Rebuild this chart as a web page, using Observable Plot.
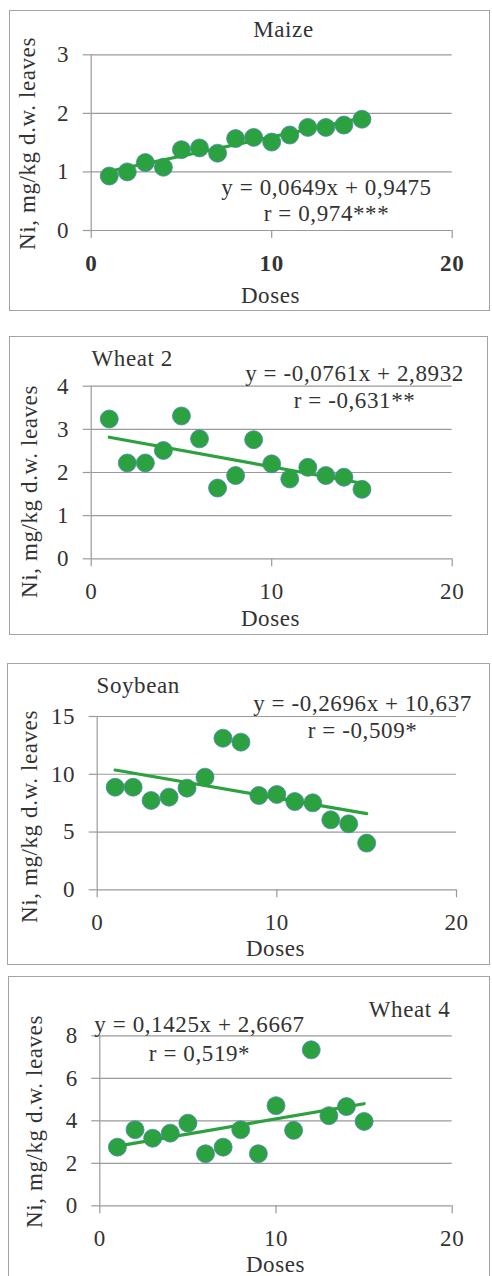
<!DOCTYPE html>
<html>
<head>
<meta charset="utf-8">
<script src="https://cdn.jsdelivr.net/npm/d3@7"></script>
<script src="https://cdn.jsdelivr.net/npm/@observablehq/plot@0.6"></script>
<style>
  html, body { margin: 0; padding: 0; background: #fff; }
  #wrap { position: relative; width: 492px; height: 1276px; overflow: hidden; }
  .frame { position: absolute; border: 1px solid #a3a3a3; box-sizing: border-box; }
</style>
</head>
<body>
<div id="wrap"></div>
<script>
// ---- data ----
const doses = [1, 2, 3, 4, 5, 6, 7, 8, 9, 10, 11, 12, 13, 14, 15];
const maize   = [0.93, 1.00, 1.16, 1.08, 1.38, 1.41, 1.32, 1.57, 1.59, 1.51, 1.63, 1.76, 1.76, 1.80, 1.90];
const wheat2  = [3.24, 2.22, 2.22, 2.51, 3.31, 2.78, 1.64, 1.93, 2.76, 2.20, 1.85, 2.12, 1.93, 1.89, 1.61];
const soybean = [8.88, 8.88, 7.73, 8.02, 8.80, 9.75, 13.12, 12.78, 8.16, 8.25, 7.64, 7.53, 6.06, 5.71, 4.04];
const wheat4  = [2.76, 3.58, 3.18, 3.42, 3.89, 2.45, 2.76, 3.58, 2.45, 4.71, 3.55, 7.34, 4.24, 4.67, 3.97];
const titles = ["Maize", "Wheat 2", "Soybean", "Wheat 4"];
const slopes = [0.0649, -0.0761, -0.2696, 0.1425];
const intercepts = [0.9475, 2.8932, 10.637, 2.6667];
const equations = ["y = 0,0649x + 0,9475", "y = -0,0761x + 2,8932", "y = -0,2696x + 10,637", "y = 0,1425x + 2,6667"];
const rLabels = ["r = 0,974***", "r = -0,631**", "r = -0,509*", "r = 0,519*"];
const yTicks = [[0, 1, 2, 3], [0, 1, 2, 3, 4], [0, 5, 10, 15], [0, 2, 4, 6, 8]];
const xTicks = [0, 10, 20];
const trendRange = [1, 15];
const xLabel = "Doses";
const yLabel = "Ni, mg/kg d.w. leaves";
const series = [maize, wheat2, soybean, wheat4];

// ---- layout (page pixels) ----
const layout = [
  {top: 0,   h: 320, ml: 90.7, mr: 40.3, mt: 54.3, mb: 90,   frame: [9, 10, 490, 311],
   title: {x: 283, y: 29, a: "middle"}, eq: {x: 326, y: 187}, r: {x: 326, y: 213}, ylab: {x: 27, y: 143}, xlab: {x: 270, y: 295}, bold: true},
  {top: 320, h: 320, ml: 90.7, mr: 40.3, mt: 65.7, mb: 81.7, frame: [9, 336, 488, 635],
   title: {x: 91, y: 38, a: "start"}, eq: {x: 354, y: 53}, r: {x: 354, y: 80}, ylab: {x: 29, y: 171}, xlab: {x: 270, y: 298}},
  {top: 640, h: 320, ml: 96.7, mr: 36, mt: 76, mb: 70.7, frame: [7, 663, 490, 965],
   title: {x: 96, y: 45, a: "start"}, eq: {x: 362, y: 63}, r: {x: 362, y: 90}, ylab: {x: 29, y: 176}, xlab: {x: 275, y: 308}},
  {top: 960, h: 316, ml: 99.3, mr: 40.3, mt: 75.3, mb: 70.7, frame: [8, 976, 490, 1290],
   title: {x: 409, y: 49, a: "middle"}, eq: {x: 199, y: 64}, r: {x: 199, y: 93}, ylab: {x: 34, y: 161}, xlab: {x: 275, y: 304}}
];

const GREEN = "#2ba13f";
const TEXT = "#333333";
const GRID = "#9a9a9a";
const wrap = document.getElementById("wrap");
const fmt = d3.format("d");

layout.forEach((L) => {
  const f = document.createElement("div");
  f.className = "frame";
  f.style.left = L.frame[0] + "px";
  f.style.top = L.frame[1] + "px";
  f.style.width = (L.frame[2] - L.frame[0]) + "px";
  f.style.height = (L.frame[3] - L.frame[1]) + "px";
  wrap.appendChild(f);
});

layout.forEach((L, i) => {
  const pts = doses.map((d, k) => ({x: d, y: series[i][k]}));
  const trend = trendRange.map(x => ({x, y: slopes[i] * x + intercepts[i]}));
  const yt = yTicks[i];
  const x0 = xTicks[0], x1 = xTicks[xTicks.length - 1];
  const y0 = yt[0], y1 = yt[yt.length - 1];
  const at = (p, text, extra = {}) => Plot.text([text], {
    frameAnchor: "top-left", dx: p.x - L.ml, dy: p.y - L.mt, fill: TEXT,
    textAnchor: "middle", lineAnchor: "middle", ...extra
  });
  const chart = Plot.plot({
    width: 492,
    height: L.h,
    marginLeft: L.ml, marginRight: L.mr, marginTop: L.mt, marginBottom: L.mb,
    style: {fontFamily: "'Liberation Serif', serif", fontSize: "23px", color: TEXT, background: "transparent", letterSpacing: "0.6px", overflow: "visible"},
    x: {type: "linear", domain: [x0, x1], axis: null},
    y: {type: "linear", domain: [y0, y1], axis: null},
    marks: [
      Plot.ruleY(yt, {stroke: GRID, strokeWidth: 1.2, x1: () => x0, x2: () => x1}),
      Plot.ruleX([x0], {stroke: GRID, strokeWidth: 1.2, y1: () => y0, y2: () => y1}),
      Plot.axisY(yt, {tickSize: 8, tickPadding: 14, stroke: GRID, strokeWidth: 1.2, fill: TEXT, fontSize: 23, label: null, tickFormat: fmt}),
      Plot.axisX(xTicks, {tickSize: 8, tickPadding: 16, stroke: GRID, strokeWidth: 1.2, fill: TEXT, fontSize: 23, label: null, tickFormat: fmt, fontWeight: L.bold ? "bold" : "normal"}),
      Plot.dot(pts, {x: "x", y: "y", r: 9, fill: GREEN, stroke: "#4f86b8", strokeWidth: 0.8}),
      Plot.line(trend, {x: "x", y: "y", stroke: GREEN, strokeWidth: 3.2}),
      at(L.title, titles[i], {textAnchor: L.title.a}),
      at(L.eq, equations[i]),
      at(L.r, rLabels[i]),
      at(L.xlab, xLabel),
      at(L.ylab, yLabel, {rotate: -90})
    ]
  });
  chart.style.position = "absolute";
  chart.style.top = L.top + "px";
  chart.style.left = "0px";
  wrap.appendChild(chart);
});
</script>
</body>
</html>
